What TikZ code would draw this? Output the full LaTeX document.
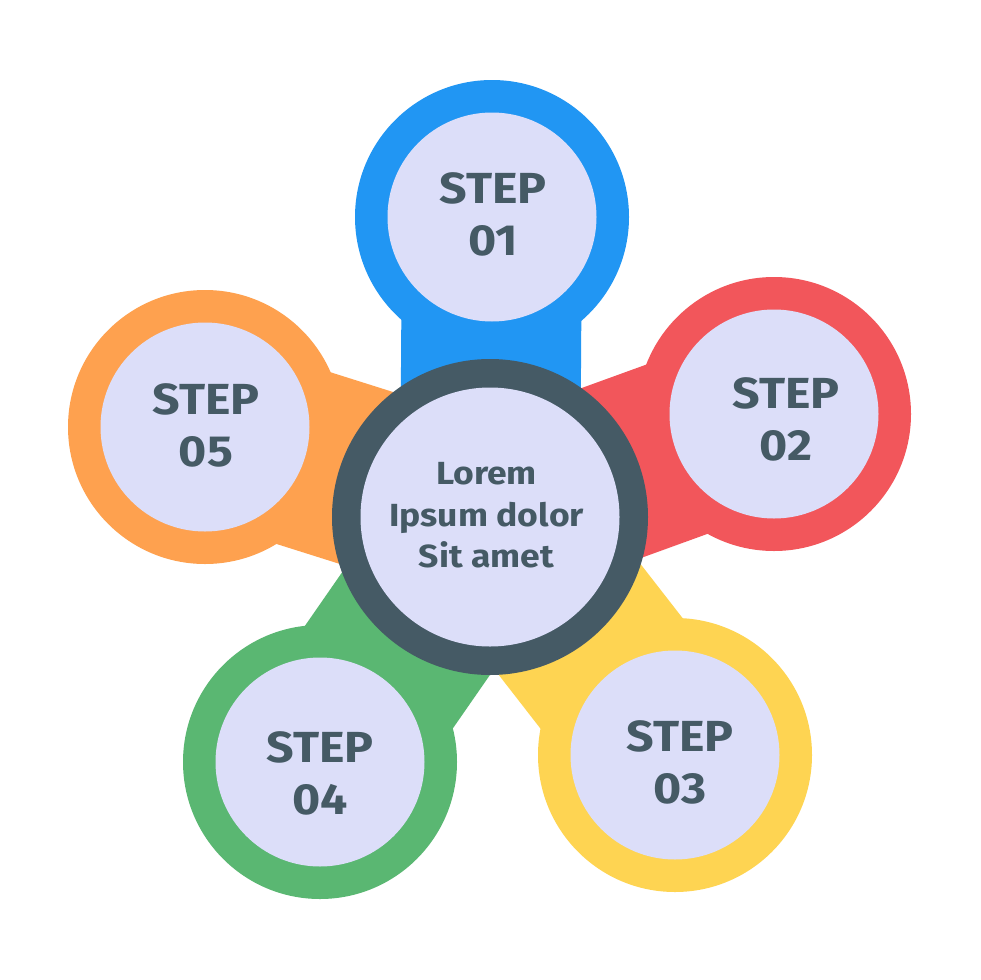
\documentclass[tikz,border=0pt]{standalone}
\usepackage{fontspec}
\newfontfamily\stepfont{Fira Sans}[FakeStretch=1.11]
\definecolor{cblue}{RGB}{33,150,243}
\definecolor{cred}{RGB}{242,86,91}
\definecolor{cyellow}{RGB}{254,212,82}
\definecolor{cgreen}{RGB}{90,183,114}
\definecolor{corange}{RGB}{254,161,79}
\definecolor{cdark}{RGB}{69,90,101}
\definecolor{clight}{RGB}{220,222,249}
\tikzset{
  arm/.style={line width=180pt},
  outerc/.style={circle, inner sep=0pt, minimum size=274pt},
  innerc/.style={circle, inner sep=0pt, fill=clight, minimum size=209pt},
  steptext/.style={font=\stepfont\bfseries\fontsize{43.5}{52}\selectfont, text=cdark, align=center, inner sep=0pt},
  centertext/.style={font=\stepfont\bfseries\fontsize{32}{41.5}\selectfont, text=cdark, align=center, inner sep=0pt}
}
\begin{document}
\begin{tikzpicture}[x=1pt,y=-1pt]
\useasboundingbox (0,0) rectangle (980,980);
\fill[white] (0,0) rectangle (980,980);
\coordinate (c) at (490,517);
\coordinate (p1) at (492,217);
\coordinate (p2) at (774,414);
\coordinate (p3) at (675,755);
\coordinate (p4) at (320,762);
\coordinate (p5) at (205,427);
% arms
\draw[arm, cblue] (c) -- (p1);
\draw[arm, cred] (c) -- (p2);
\draw[arm, cyellow] (c) -- (p3);
\draw[arm, cgreen] (c) -- (p4);
\draw[arm, corange] (c) -- (p5);
% step circles
\node[outerc, fill=cblue] (o1) at (p1) {};
\node[outerc, fill=cred] (o2) at (p2) {};
\node[outerc, fill=cyellow] (o3) at (p3) {};
\node[outerc, fill=cgreen] (o4) at (p4) {};
\node[outerc, fill=corange] (o5) at (p5) {};
\node[innerc] (i1) at (p1) {};
\node[innerc] (i2) at (p2) {};
\node[innerc] (i3) at (p3) {};
\node[innerc] (i4) at (p4) {};
\node[innerc] (i5) at (p5) {};
% center
\node[circle, inner sep=0pt, fill=cdark, minimum size=316pt] (co) at (c) {};
\node[circle, inner sep=0pt, fill=clight, minimum size=259pt] (ci) at (c) {};
% texts
\node[steptext] (t1) at (493,214) {STEP\\01};
\node[steptext] (t2) at (786,419.5) {STEP\\02};
\node[steptext] (t3) at (680,762) {STEP\\03};
\node[steptext] (t4) at (320,773) {STEP\\04};
\node[steptext] (t5) at (206,425) {STEP\\05};
\node[centertext] (tc) at (486.5,515.5) {Lorem\\Ipsum dolor\\Sit amet};
\end{tikzpicture}
\end{document}
